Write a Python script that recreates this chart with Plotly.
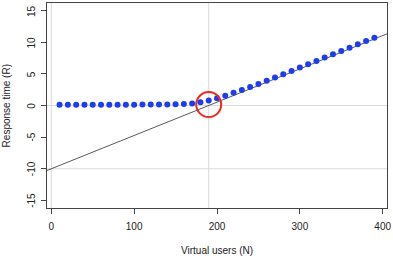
import plotly.graph_objects as go

# Data
users = [10, 20, 30, 40, 50, 60, 70, 80, 90, 100, 110, 120, 130, 140, 150, 160, 170, 180, 190,
         200, 210, 220, 230, 240, 250, 260, 270, 280, 290, 300, 310, 320, 330, 340, 350, 360,
         370, 380, 390]
response = [0.10, 0.10, 0.10, 0.11, 0.11, 0.11, 0.12, 0.12, 0.13, 0.13, 0.14, 0.15, 0.16, 0.17,
            0.19, 0.24, 0.32, 0.50, 0.78, 1.15, 1.55, 2.00, 2.45, 2.92, 3.40, 3.90, 4.42, 4.95,
            5.47, 6.00, 6.52, 7.04, 7.57, 8.10, 8.62, 9.14, 9.67, 10.19, 10.70]

# asymptote line (abline): R = slope * N + intercept
line_intercept = -10
line_slope = 10 / 190
line_x = [-30, 430]

# reference lines
vlines = [0, 190]
hlines = [0, -10]

# highlighted knee point
knee_x = [190]
knee_y = [0.15]

x_ticks = [0, 100, 200, 300, 400]
y_ticks = [-15, -10, -5, 0, 5, 10, 15]

FONT = "Liberation Sans, Arial, Helvetica, sans-serif"
TXT = "#222222"

fig = go.Figure()

for v in vlines:
    fig.add_shape(type="line", xref="x", yref="paper", x0=v, x1=v, y0=0, y1=1,
                  line=dict(color="#d9d9d9", width=1), layer="below")
for h in hlines:
    fig.add_shape(type="line", xref="paper", yref="y", x0=0, x1=1, y0=h, y1=h,
                  line=dict(color="#d9d9d9", width=1), layer="below")

fig.add_trace(go.Scatter(
    x=line_x, y=[line_slope * x + line_intercept for x in line_x],
    mode="lines", line=dict(color="#5a5a5a", width=1), showlegend=False, hoverinfo="skip"))

fig.add_trace(go.Scatter(
    x=users, y=response, mode="markers",
    marker=dict(color="#1d3cf0", size=6, line=dict(width=0)), showlegend=False))

fig.add_trace(go.Scatter(
    x=knee_x, y=knee_y, mode="markers",
    marker=dict(symbol="circle-open", size=25, color="#ee2a1c", line=dict(width=2)),
    showlegend=False))

# rotated y tick labels (R style)
for t in y_ticks:
    fig.add_annotation(text=str(t), xref="paper", yref="y", x=-0.046, y=t,
                       xanchor="center", yanchor="middle", showarrow=False, textangle=-90,
                       font=dict(size=10, color=TXT))

fig.add_annotation(text="Virtual users (N)", xref="paper", yref="paper", x=0.5, y=-0.205,
                   xanchor="center", yanchor="middle", showarrow=False,
                   font=dict(size=10, color=TXT))
fig.add_annotation(text="Response time (R)", xref="paper", yref="paper", x=-0.118, y=0.5,
                   xanchor="center", yanchor="middle", showarrow=False, textangle=-90,
                   font=dict(size=10, color=TXT))

fig.update_layout(
    width=393, height=258,
    margin=dict(l=47, r=6, t=3, b=50, autoexpand=False),
    paper_bgcolor="white", plot_bgcolor="white",
    font=dict(family=FONT, size=10, color=TXT),
    xaxis=dict(range=[-5.2, 405.2], tickvals=x_ticks, showgrid=False, zeroline=False,
               showline=True, mirror=True, linecolor="#444444", linewidth=1,
               ticks="outside", ticklen=5, tickcolor="#444444", automargin=False,
               ticklabelstandoff=4,
               tickfont=dict(size=10, color=TXT)),
    yaxis=dict(range=[-16.2, 16.2], tickvals=y_ticks, showgrid=False, zeroline=False,
               showline=True, mirror=True, linecolor="#444444", linewidth=1,
               ticks="outside", ticklen=5, tickcolor="#444444",
               automargin=False, showticklabels=False),
)

fig.write_html("out.html", config={"displayModeBar": False},
               post_script="document.body.style.margin='0';document.body.style.overflow='hidden';")
